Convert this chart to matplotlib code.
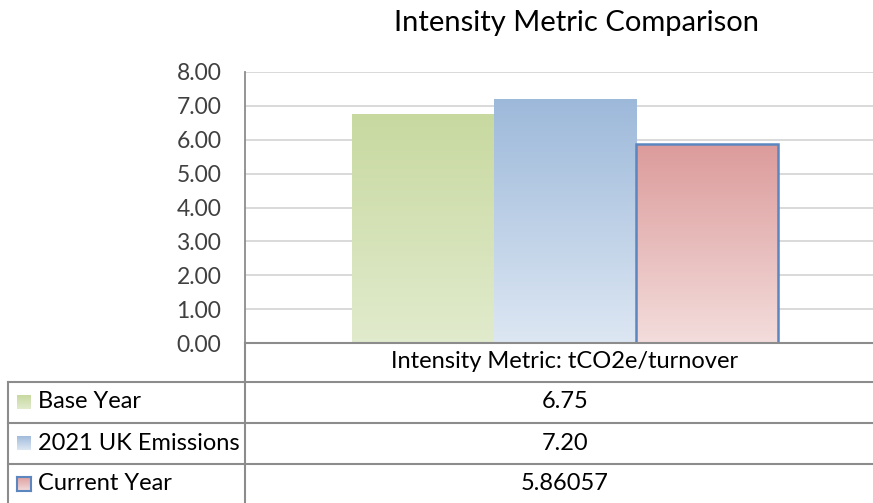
import numpy as np
import matplotlib.pyplot as plt
from matplotlib.patches import Rectangle
from matplotlib.colors import LinearSegmentedColormap
from matplotlib.lines import Line2D

plt.rcParams['font.family'] = ['Lato', 'DejaVu Sans']

# data
series = ["Base Year", "2021 UK Emissions", "Current Year"]
values = [6.75, 7.20, 5.86057]
value_labels = ["6.75", "7.20", "5.86057"]
category = "Intensity Metric: tCO2e/turnover"
title = "Intensity Metric Comparison"
yticks = [0, 1, 2, 3, 4, 5, 6, 7, 8]

# gradient colours (top, bottom)
grads = [("#c8d9a0", "#e1ebcd"), ("#9db9da", "#dde7f3"), ("#dc9b9b", "#f3dddc")]
edges = [None, None, "#5b86c0"]

W, H = 873, 503
fig = plt.figure(figsize=(W / 100, H / 100), dpi=100)

def fx(px):
    return px / W

def fy(py):
    return 1 - py / H

ax_l, ax_r, ax_t, ax_b = 245, 873, 72, 343
ax = fig.add_axes([fx(ax_l), fy(ax_b), fx(ax_r - ax_l), fy(ax_t) - fy(ax_b)])

for s in ["top", "right", "bottom"]:
    ax.spines[s].set_visible(False)
ax.spines["left"].set_color("#8c8c8c")
ax.spines["left"].set_linewidth(1.3)
ax.set_yticks(yticks)
ax.set_yticklabels([f"{v:.2f}" for v in yticks], fontsize=16.5, color="#404040")
ax.tick_params(axis="y", length=0, pad=17)
ax.set_xticks([])
for v in yticks[1:]:
    ax.axhline(v, color="#d9d9d9", lw=1.4, zorder=0)

xs = [-1, 0, 1]
for x, v, (top, bot), ec in zip(xs, values, grads, edges):
    cmap = LinearSegmentedColormap.from_list("g", [bot, top])
    img = ax.imshow(np.linspace(0, 1, 256).reshape(-1, 1), cmap=cmap, origin="lower",
                    extent=[x - 0.5, x + 0.5, 0, v], aspect="auto", zorder=2)
    rect = Rectangle((x - 0.5, 0), 1, v, facecolor="none",
                     edgecolor=ec if ec else "none", lw=1.8, zorder=3)
    ax.add_patch(rect)
    img.set_clip_path(rect)
ax.set_xlim(-2.254, 2.168)
ax.set_ylim(0, 8)

fig.text(fx(577), fy(23), title, ha="center", va="center", fontsize=21, color="#000000")

# data table
lc = "#8c8c8c"
lw = 1.5

def hline(y, x0, x1):
    fig.add_artist(Line2D([fx(x0), fx(x1)], [fy(y), fy(y)], color=lc, lw=lw))

def vline(x, y0, y1):
    fig.add_artist(Line2D([fx(x), fx(x)], [fy(y0), fy(y1)], color=lc, lw=lw))

hline(343, 245, 873)
for y in [382, 423, 464]:
    hline(y, 8, 873)
vline(245, 343, 503)
vline(8, 382, 503)

fs = 17
fig.text(fx(565), fy(362), category, ha="center", va="center", fontsize=fs)
row_y = [402, 443, 484]
for name, lab, (top, bot), ec, y in zip(series, value_labels, grads, edges, row_y):
    kax = fig.add_axes([fx(17), fy(y + 7), fx(14), fy(y - 7) - fy(y + 7)])
    cmap = LinearSegmentedColormap.from_list("g", [bot, top])
    kax.imshow(np.linspace(0, 1, 64).reshape(-1, 1), cmap=cmap, origin="lower",
               extent=[0, 1, 0, 1], aspect="auto")
    kax.set_xticks([])
    kax.set_yticks([])
    for s in kax.spines.values():
        s.set_visible(ec is not None)
        if ec:
            s.set_color(ec)
            s.set_linewidth(1.5)
    fig.text(fx(38), fy(y), name, ha="left", va="center", fontsize=fs)
    fig.text(fx(565), fy(y), lab, ha="center", va="center", fontsize=fs)

fig.savefig("out.png", dpi=100)
